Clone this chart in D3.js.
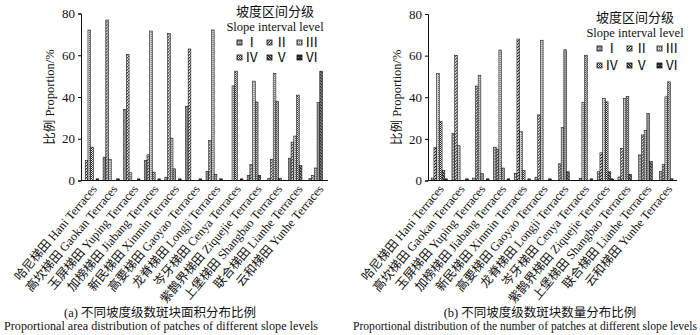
<!DOCTYPE html>
<html>
<head>
<meta charset="utf-8">
<script src="https://cdn.jsdelivr.net/npm/d3@7/dist/d3.min.js"></script>
<style>
  body { margin: 0; background: #fff; }
  text { font-family: "Liberation Serif", "Times New Roman", "Noto Sans CJK SC", serif; fill: #111; }
</style>
</head>
<body>
<svg id="chart" width="700" height="335"></svg>
<script>
var terraces = [
  '哈尼梯田 Hani Terraces', '高坎梯田 Gaokan Terraces', '玉屏梯田 Yuping Terraces',
  '加榜梯田 Jiabang Terraces', '新民梯田 Xinmin Terraces', '高要梯田 Gaoyao Terraces',
  '龙脊梯田 Longji Terraces', '岑牙梯田 Cenya Terraces', '紫鹊界梯田 Ziquejie Terraces',
  '上堡梯田 Shangbao Terraces', '联合梯田 Lianhe Terraces', '云和梯田 Yunhe Terraces'
];
var levels = ['Ⅰ', 'Ⅱ', 'Ⅲ', 'Ⅳ', 'Ⅴ', 'Ⅵ'];
var yTicks = [0, 20, 40, 60, 80];

// (a) area share by slope level, one array per level, in terrace order
var areaI   = [0,    11.2, 34.1, 9.6,  1.6,  35.6, 4.4,  0,    2.5,  1.1,  10.7, 1.0];
var areaII  = [9.6,  76.9, 60.4, 12.3, 70.5, 63.0, 19.2, 0,    7.7,  10.2, 18.4, 2.5];
var areaIII = [72.1, 10.1, 3.7,  71.6, 20.3, 0,    72.1, 45.3, 47.6, 51.3, 21.3, 6.0];
var areaIV  = [16.0, 0,    0,    4.0,  5.6,  0,    3.0,  52.4, 37.6, 38.0, 40.9, 37.3];
var areaV   = [0,    0,    0,    0,    0,    0,    0,    0,    2.5,  1.1,  7.2,  52.4];
var areaVI  = [0.8,  0.8,  0.8,  0.8,  0.8,  0.8,  0.8,  0.8,  0,    0,    0,    0];

// (b) patch count share by slope level
var countI   = [1.2,  22.7, 1.2,  16.0, 3.5,  1.6,  0,    0,    4.2,  1.7,  12.3, 4.4];
var countII  = [16.0, 60.2, 45.4, 15.1, 68.0, 31.5, 8.0,  1.0,  13.3, 15.3, 21.9, 7.6];
var countIII = [51.4, 16.7, 50.6, 62.7, 23.5, 67.4, 25.5, 37.4, 39.5, 39.5, 24.1, 40.2];
var countIV  = [28.3, 0,    3.3,  6.0,  4.8,  0,    62.8, 60.2, 37.8, 40.3, 32.3, 47.4];
var countV   = [4.8,  0,    0,    0,    0,    0,    4.2,  0,    4.2,  3.0,  9.1,  0.8];
var countVI  = [0.8,  0.8,  0.8,  0.8,  0.8,  0.8,  0,    0.8,  0.8,  0,    0,    0];

var svg = d3.select('#chart');
var defs = svg.append('defs');

// six fill patterns, one per slope level
function pattern(id, size, bg, draw){
  var p = defs.append('pattern')
    .attr('id', id)
    .attr('patternUnits', 'userSpaceOnUse')
    .attr('width', size).attr('height', size);
  p.append('rect').attr('width', size).attr('height', size).attr('fill', bg);
  draw(p);
}
pattern('lv0', 3, '#8a8a8a', function(p){
  p.append('rect').attr('x', 1).attr('y', 1).attr('width', 1).attr('height', 1).attr('fill', '#e8e8e8');
});
pattern('lv1', 3, '#f4f4f4', function(p){
  p.append('path').attr('d', 'M0,3L3,0').attr('stroke', '#222').attr('stroke-width', 1.1);
});
pattern('lv2', 2, '#cfcfcf', function(p){
  p.append('rect').attr('width', 1).attr('height', 1).attr('fill', '#666');
});
pattern('lv3', 2, '#eee', function(p){
  p.append('rect').attr('width', 1).attr('height', 1).attr('fill', '#222');
  p.append('rect').attr('x', 1).attr('y', 1).attr('width', 1).attr('height', 1).attr('fill', '#555');
});
pattern('lv4', 3, '#333', function(p){
  p.append('path').attr('d', 'M0,0L3,3').attr('stroke', '#ddd').attr('stroke-width', 0.8);
});
pattern('lv5', 3, '#2a2a2a', function(p){
  p.append('rect').attr('x', 1).attr('y', 1).attr('width', 1).attr('height', 1).attr('fill', '#999');
});

function drawPanel(cfg){
  var series = cfg.series;
  var rows = terraces.map(function(t, i){
    return {name: t, values: series.map(function(s){ return s[i]; })};
  });

  var x0 = d3.scaleBand().domain(terraces).range([cfg.left, cfg.right]);
  var barW = 2.72;
  var x1 = d3.scaleBand().domain(d3.range(6))
    .range([cfg.barShift, cfg.barShift + barW * 6]);
  var y = d3.scaleLinear().domain([0, 80]).range([cfg.bottom, cfg.top]);

  var g = svg.append('g');

  g.append('g').selectAll('g')
    .data(rows)
    .join('g')
      .attr('transform', function(d){ return 'translate(' + x0(d.name) + ',0)'; })
    .selectAll('rect')
    .data(function(d){ return d.values.map(function(v, i){ return {v: v, i: i}; }); })
    .join('rect')
      .filter(function(d){ return d.v > 0; })
      .attr('x', function(d){ return x1(d.i); })
      .attr('width', x1.bandwidth())
      .attr('y', function(d){ return y(d.v); })
      .attr('height', function(d){ return y(0) - y(d.v); })
      .attr('fill', function(d){ return 'url(#lv' + d.i + ')'; })
      .attr('stroke', '#111')
      .attr('stroke-width', 0.55);

  // y axis
  var yAxis = g.append('g')
    .attr('transform', 'translate(' + cfg.left + ',0)')
    .call(d3.axisLeft(y).tickValues(yTicks).tickSize(3).tickPadding(3));
  yAxis.select('.domain').attr('stroke', '#111');
  yAxis.selectAll('text').style('font-size', '13px').attr('font-family', '"Liberation Serif", serif');

  // x axis line
  g.append('line')
    .attr('x1', cfg.left).attr('x2', cfg.right)
    .attr('y1', y(0)).attr('y2', y(0))
    .attr('stroke', '#111');

  // rotated category labels
  g.append('g').selectAll('text')
    .data(terraces)
    .join('text')
      .attr('transform', function(d){
        return 'translate(' + (x0(d) + x0.bandwidth() / 2 + 3) + ',' + (y(0) + 6) + ') rotate(-50)';
      })
      .attr('text-anchor', 'end')
      .attr('dy', '0.35em')
      .style('font-size', '12.3px')
      .text(function(d){ return d; });

  // y title
  g.append('text')
    .attr('transform', 'translate(' + cfg.titleX + ',' + ((y(0) + y(80)) / 2) + ') rotate(-90)')
    .attr('text-anchor', 'middle')
    .attr('dy', '0.35em')
    .style('font-size', '12.5px')
    .text('比例 Proportion/%');

  // legend
  var lg = g.append('g').attr('transform', 'translate(' + cfg.legX + ',' + cfg.legY + ')');
  lg.append('text').attr('x', 0).attr('y', 0).attr('text-anchor', 'middle')
    .style('font-size', '13px').text('坡度区间分级');
  lg.append('text').attr('x', 0).attr('y', 15).attr('text-anchor', 'middle')
    .style('font-size', '12.5px').text('Slope interval level');
  var item = lg.selectAll('g.item')
    .data(levels)
    .join('g')
      .attr('class', 'item')
      .attr('transform', function(d, i){
        return 'translate(' + (-38 + (i % 3) * 30) + ',' + (cfg.row1 + Math.floor(i / 3) * cfg.rowGap) + ')';
      });
  item.append('rect')
    .attr('x', 0).attr('y', -7).attr('width', 5).attr('height', 5)
    .attr('fill', function(d, i){ return 'url(#lv' + i + ')'; })
    .attr('stroke', '#111').attr('stroke-width', 0.8);
  item.append('text')
    .attr('x', 8).attr('y', 0)
    .style('font-size', '13.5px')
    .text(function(d){ return d; });

  // caption
  g.append('text').attr('x', cfg.cap1X).attr('y', 317).attr('text-anchor', 'middle')
    .style('font-size', '12.5px').text(cfg.cap1);
  g.append('text').attr('x', cfg.cap2X).attr('y', 330).attr('text-anchor', 'middle')
    .attr('textLength', cfg.cap2W).attr('lengthAdjust', 'spacingAndGlyphs')
    .style('font-size', '11.5px').text(cfg.cap2);
}

drawPanel({
  series: [areaI, areaII, areaIII, areaIV, areaV, areaVI],
  left: 81, right: 328, top: 13.5, bottom: 180.5, barShift: 1.5,
  titleX: 50, legX: 275, legY: 16, row1: 31, rowGap: 15,
  cap1X: 160, cap2X: 161, cap2W: 314,
  cap1: '(a) 不同坡度级数斑块面积分布比例',
  cap2: 'Proportional area distribution of patches of different slope levels'
});

drawPanel({
  series: [countI, countII, countIII, countIV, countV, countVI],
  left: 428, right: 677, top: 14, bottom: 180.5, barShift: 3.2,
  titleX: 397, legX: 635, legY: 22, row1: 31, rowGap: 17,
  cap1X: 540, cap2X: 525, cap2W: 344,
  cap1: '(b) 不同坡度级数斑块数量分布比例',
  cap2: 'Proportional distribution of the number of patches at different slope levels'
});
</script>
</body>
</html>
